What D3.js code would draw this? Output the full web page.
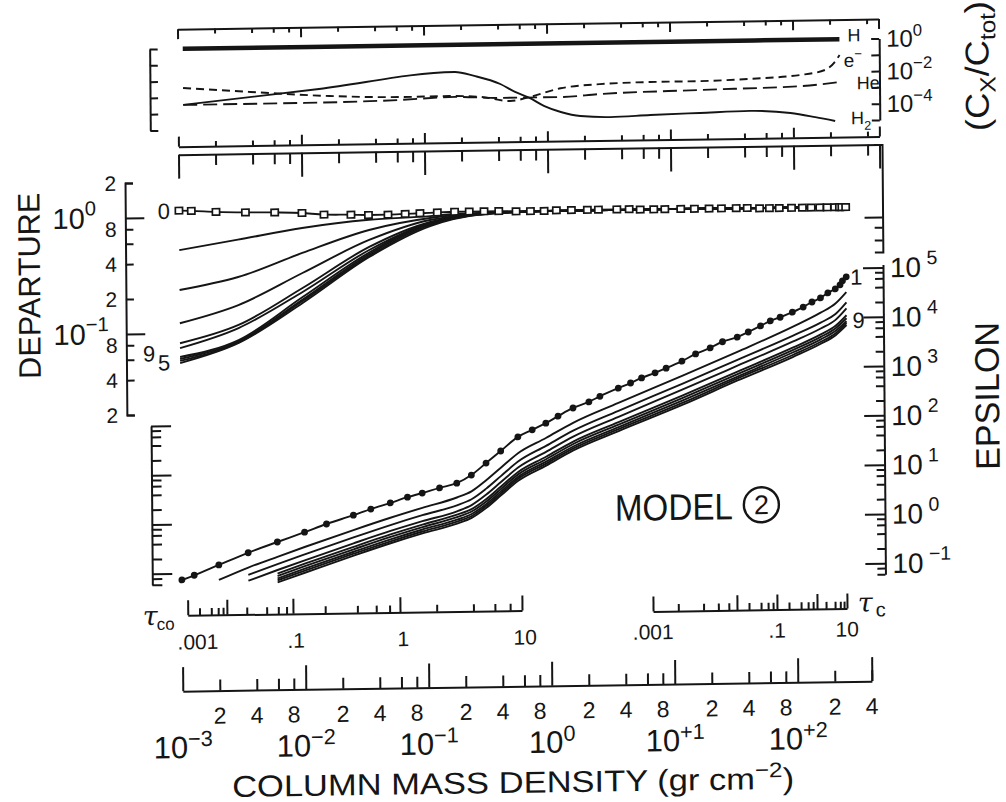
<!DOCTYPE html>
<html>
<head>
<meta charset="utf-8">
<script src="https://cdn.jsdelivr.net/npm/d3@7"></script>
<style>
  html, body { margin: 0; background: #fff; }
  #chart { width: 1006px; height: 802px; }
  text { font-family: "Liberation Sans", Arial, sans-serif; fill: #151515; }
</style>
</head>
<body>
<div id="chart"></div>
<script>
// ---------- data ----------
// depth points of the model, column mass (gr cm^-2)
const massGrid = [1.0e-3, 1.26e-3, 2.0e-3, 3.47e-3, 6.0e-3, 1.0e-2, 1.51e-2, 2.5e-2, 3.47e-2, 5.0e-2,
  6.9e-2, 9.1e-2, 0.126, 0.174, 0.229, 0.302, 0.398, 0.55, 0.72, 0.93,
  1.17, 1.55, 2.09, 2.57, 3.63, 4.57, 5.62, 7.24, 8.91, 12.0,
  15.5, 20.4, 25.7, 33.9, 41.7, 52.5, 63.1, 75.9, 95.5, 117,
  138, 162, 186, 214, 234, 245, 263];
// departure coefficient of level 0 (open squares)
const depLevel0 = [1.14, 1.13, 1.10, 1.08, 1.07, 1.05, 1.01, 1.00, 0.99, 0.99,
  1.00, 1.01, 1.02, 1.03, 1.03, 1.03, 1.03, 1.02, 1.02, 1.02,
  1.03, 1.03, 1.03, 1.03, 1.03, 1.03, 1.02, 1.02, 1.02, 1.02,
  1.02, 1.02, 1.02, 1.02, 1.02, 1.01, 1.01, 1.01, 1.01, 1.01,
  1.01, 1.01, 1.01, 1.01, 1.01, 1.01, 1.01];
// epsilon of level 1 (filled dots)
const epsLevel1 = [0.074, 0.091, 0.145, 0.251, 0.407, 0.631, 0.912, 1.35, 1.78, 2.34,
  3.02, 3.63, 4.57, 5.62, 8.13, 14.1, 24.5, 46.8, 64.6, 87.1,
  120, 174, 229, 295, 427, 537, 676, 851, 1047, 1445,
  1995, 2630, 3467, 4266, 5370, 7079, 8913, 10470, 13180, 16600,
  20890, 25120, 31620, 38020, 45710, 54950, 66070];

// departure coefficients of levels 1..9
const depMass = [1.0e-3, 3.0e-3, 1.0e-2, 3.5e-2, 0.11, 0.17, 0.32, 1.0, 10, 263];
const dep1 = [0.52, 0.63, 0.78, 0.90, 0.95, 0.985, 1.0, 1.02, 1.02, 1.01];
const dep2 = [0.236, 0.30, 0.475, 0.735, 0.916, 0.96, 1.0, 1.02, 1.02, 1.01];
const dep3 = [0.122, 0.172, 0.319, 0.603, 0.881, 0.94, 0.995, 1.02, 1.02, 1.01];
const dep4 = [0.082, 0.116, 0.237, 0.525, 0.847, 0.93, 0.99, 1.015, 1.02, 1.01];
const dep5 = [0.0745, 0.109, 0.219, 0.494, 0.830, 0.92, 0.99, 1.015, 1.02, 1.01];
const dep6 = [0.0624, 0.0859, 0.198, 0.47, 0.83, 0.91, 0.985, 1.015, 1.02, 1.01];
const dep7 = [0.060, 0.0838, 0.188, 0.455, 0.815, 0.905, 0.985, 1.015, 1.02, 1.01];
const dep8 = [0.0577, 0.082, 0.183, 0.44, 0.80, 0.90, 0.98, 1.015, 1.02, 1.01];
const dep9 = [0.0553, 0.0811, 0.176, 0.43, 0.78, 0.89, 0.98, 1.015, 1.02, 1.01];

// epsilon of levels 2..9 (null = curve not drawn there)
const epsMass = [2.0e-3, 3.47e-3, 6.0e-3, 1.0e-2, 2.5e-2, 5.0e-2, 9.1e-2, 0.174, 0.229, 0.302, 0.398,
  0.55, 0.93, 1.55, 3.63, 12.0, 33.9, 95.5, 162, 214, 263];
const eps2 = [0.072, 0.126, 0.204, 0.316, 0.676, 1.17, 1.82, 2.88, 3.80, 6.31, 11.2, 21.9, 43.7, 87, 214, 724, 2140, 6610, 12600, 19100, 32400];
const eps3 = [null, 0.089, 0.145, 0.224, 0.479, 0.832, 1.29, 2.00, 2.63, 4.27, 7.59, 14.8, 30.2, 60.3, 148, 501, 1480, 4370, 7940, 11700, 20000];
const eps4 = [null, 0.068, 0.110, 0.170, 0.363, 0.631, 0.977, 1.51, 2.00, 3.24, 5.75, 11.2, 22.9, 45.7, 112, 380, 1120, 3310, 6030, 8910, 15100];
const eps5 = [null, null, 0.093, 0.145, 0.309, 0.537, 0.832, 1.29, 1.66, 2.63, 4.68, 9.12, 18.2, 36.3, 87.1, 288, 851, 2510, 4570, 6760, 11000];
const eps6 = [null, null, 0.083, 0.129, 0.275, 0.479, 0.741, 1.15, 1.48, 2.34, 4.17, 8.13, 16.2, 32.4, 77.6, 257, 759, 2240, 4070, 6030, 9550];
const eps7 = [null, null, 0.074, 0.115, 0.245, 0.427, 0.661, 1.02, 1.32, 2.09, 3.72, 7.24, 14.5, 28.8, 69.2, 229, 676, 2000, 3630, 5370, 8320];
const eps8 = [null, null, 0.068, 0.105, 0.224, 0.389, 0.603, 0.933, 1.20, 1.91, 3.39, 6.61, 13.2, 26.3, 63.1, 204, 617, 1780, 3240, 4790, 7590];
const eps9 = [null, null, 0.062, 0.095, 0.204, 0.355, 0.550, 0.851, 1.10, 1.74, 3.09, 6.03, 12.0, 24.0, 57.5, 186, 562, 1620, 2950, 4370, 6920];

// top panel: fractional concentrations C_x / C_tot
const hMass = [1.1e-3, 0.1, 10, 240];
const hConc = [0.97, 0.975, 0.975, 0.98];
const h2Mass = [1.1e-3, 1.4e-2, 0.178, 0.257, 0.417, 0.55, 0.72, 0.95, 1.29, 1.86, 3.24, 6.9, 17.4, 44.7, 95, 151, 219];
const h2Conc = [3.5e-4, 2.5e-3, 2.1e-2, 1.15e-2, 3.5e-3, 1.1e-3, 4.6e-4, 1.4e-4, 5.9e-5, 3.2e-5, 2.6e-5, 3.2e-5, 3.9e-5, 4.7e-5, 3.2e-5, 1.7e-5, 9.5e-6];
const heMass = [1.1e-3, 9.8e-3, 6.3e-2, 0.178, 0.417, 1.29, 2.69, 17.4, 115, 240];
const heConc = [3.5e-4, 3.6e-4, 4.5e-4, 6.2e-4, 4.9e-4, 4.9e-4, 6.9e-4, 1.0e-3, 1.4e-3, 2.3e-3];
const elMass = [1.1e-3, 3.9e-3, 1.7e-2, 6.3e-2, 0.162, 0.288, 0.50, 0.72, 1.29, 2.69, 6.9, 17.4, 44.7, 115, 182, 219, 240];
const elConc = [3.8e-3, 1.9e-3, 9.1e-4, 6.8e-4, 7.1e-4, 5.9e-4, 3.1e-4, 5.2e-4, 1.7e-3, 2.8e-3, 3.4e-3, 3.5e-3, 4.3e-3, 6.8e-3, 1.3e-2, 3.9e-2, 0.105];

// optical depth scales: column mass where tau reaches each decade
const tauDecades = [0.001, 0.01, 0.1, 1, 10];
const tauCoMass = [1.11e-3, 2.31e-3, 7.96e-3, 5.90e-2, 0.579];
const tauCMass = [6.73, 32.4, 68.5, 145, 254];
const tauCoLabels = [".001", ".1", "1", "10"];
const tauCLabels = [".001", ".1", "10"];

// tick labels
const massExponents = ["\u22123", "\u22122", "\u22121", "0", "+1", "+2"];
const massMinorLabels = [2, 4, 8];
const depMinorLabels = ["2", "8", "4", "2", "8", "4", "2"];
const epsExponents = ["5", "4", "3", "2", "1", "0", "\u22121"];
const concExponents = ["0", "\u22122", "\u22124"];

// ---------- drawing ----------
const W = 1006, H = 802, INK = "#151515";
const svg = d3.select("#chart").append("svg").attr("width", W).attr("height", H);
svg.append("rect").attr("width", W).attr("height", H).attr("fill", "#fff");
// the scanned page sits slightly askew
const plot = svg.append("g")
  .attr("transform", "translate(500,400) matrix(1,-0.0145,0.008,1,0,0) translate(-500,-400)");

const x = d3.scaleLog().domain([1e-3, 1e2]).range([180.5, 795.5]);
const yConc = d3.scaleLog().domain([1, 1e-5]).range([44, 125.5]);
const yDep = d3.scaleLog().domain([1, 0.1]).range([212.6, 328.6]);
const yEps = d3.scaleLog().domain([1e5, 1e-1]).range([273, 568.8]);

const decades = (lo, hi) => d3.range(lo, hi + 1).map(e => Math.pow(10, e));
const minors = (lo, hi, mults, min, max) =>
  d3.range(lo, hi + 1).flatMap(e => mults.map(m => m * Math.pow(10, e)))
    .filter(v => v >= min * 0.999 && v <= max * 1.001);

function ticks(axisFn, scale, values, size, at, keepDomain, outer) {
  const a = axisFn(scale).tickValues(values).tickSize(size)
    .tickSizeOuter(outer || 0).tickFormat("");
  const horiz = axisFn === d3.axisTop || axisFn === d3.axisBottom;
  const gg = plot.append("g")
    .attr("transform", horiz ? `translate(0,${at})` : `translate(${at},0)`)
    .call(a);
  if (!keepDomain) gg.select(".domain").remove();
  gg.selectAll("line, path").attr("stroke", INK).attr("stroke-width", 2).attr("fill", "none");
  return gg;
}

function rich(parent, px, py, parts, size, anchor, lift) {
  const t = parent.append("text").attr("x", px).attr("y", py)
    .attr("font-size", size).attr("text-anchor", anchor || "start");
  let shift = 0;
  parts.forEach(([s, k]) => {
    const want = k === "sup" ? -(lift || 0.45) * size : k === "sub" ? 0.32 * size : 0;
    t.append("tspan").attr("dy", want - shift)
      .attr("font-size", k ? size * 0.7 : size).text(s);
    shift = want;
  });
  return t;
}

// ---- top panel ----
const xTop = d3.scaleLog().domain([1e-3, 500]).range([x(1e-3), x(500)]);
const topMinor = minors(-3, 2, [2, 4, 6, 8], 1e-3, 500);
const topMajor = decades(-3, 2).concat([500]);
ticks(d3.axisBottom, xTop, topMinor, 5, 24.5, true);
ticks(d3.axisBottom, xTop, topMajor, 10, 24.5, false);
ticks(d3.axisTop, xTop, topMinor, 5, 142, true);
ticks(d3.axisTop, xTop, topMajor, 10, 142, false);

ticks(d3.axisRight, yConc, decades(-5, 0), 8, 152.5, true);
ticks(d3.axisLeft, yConc, decades(-5, 0), 8, 882, true);
[1, 1e-2, 1e-4].forEach((v, i) =>
  rich(plot, 889, yConc(v) + 8.5, [["10"], [concExponents[i], "sup"]], 24));

const concLine = d3.line().x(d => x(d[0])).y(d => yConc(d[1])).curve(d3.curveMonotoneX);
plot.append("path").attr("d", concLine(d3.zip(hMass, hConc)))
  .attr("fill", "none").attr("stroke", INK).attr("stroke-width", 4.5);
plot.append("path").attr("d", concLine(d3.zip(h2Mass, h2Conc)))
  .attr("fill", "none").attr("stroke", INK).attr("stroke-width", 1.9);
plot.append("path").attr("d", concLine(d3.zip(heMass, heConc)))
  .attr("fill", "none").attr("stroke", INK).attr("stroke-width", 1.9).attr("stroke-dasharray", "14,6");
plot.append("path").attr("d", concLine(d3.zip(elMass, elConc)))
  .attr("fill", "none").attr("stroke", INK).attr("stroke-width", 1.9).attr("stroke-dasharray", "8,5");

rich(plot, x(240) + 8, yConc(0.98) + 2.5, [["H"]], 18);
rich(plot, x(240) + 4, yConc(0.105) + 12, [["e"], ["\u2212", "sup"]], 19);
rich(plot, x(240) + 17, yConc(2.3e-3) + 7.5, [["He"]], 18);
rich(plot, x(240) + 11, yConc(9.5e-6) + 3.5, [["H"], ["2", "sub"]], 18);

plot.append("text").attr("font-size", 33)
  .attr("transform", "translate(982,73) rotate(-90)").attr("text-anchor", "middle")
  .attr("y", 9).call(t => {
    [["(C", 0], ["X", 1], ["/C", 0], ["tot", 1], [")", 0]].forEach(([s, sub], i, arr) => {
      const prev = i ? arr[i - 1][1] : 0;
      t.append("tspan").attr("dy", (sub - prev) * 7).attr("font-size", sub ? 22 : 33).text(s);
    });
  })
  .attr("textLength", 130).attr("lengthAdjust", "spacingAndGlyphs");

// ---- main panel frame ----
const mainTopY = 150;
ticks(d3.axisBottom, xTop, topMinor, 11, mainTopY, true);
ticks(d3.axisBottom, xTop, topMajor, 24, mainTopY, false);

// left departure axis
const yDepAxis = yDep.copy().domain([2, 0.02]).range([yDep(2), yDep(0.02)]);
const depMinor = [2, 0.8, 0.6, 0.4, 0.2, 0.08, 0.06, 0.04, 0.02];
ticks(d3.axisRight, yDepAxis, depMinor, 8, 126.8, true, 8);
ticks(d3.axisRight, yDepAxis, [1, 0.1], 19, 126.8, false);
[2, 0.8, 0.4, 0.2, 0.08, 0.04, 0.02].forEach((v, i) =>
  rich(plot, 118, yDep(v) + 7.5, [[depMinorLabels[i]]], 21, "end"));
rich(plot, 54, yDep(1) + 10, [["10"], ["0", "sup"]], 29);
rich(plot, 54, yDep(0.1) + 10, [["10"], ["\u22121", "sup"]], 29);

plot.append("text").attr("font-size", 31).attr("text-anchor", "middle")
  .attr("transform", "translate(30,279) rotate(-90)").attr("y", 11)
  .attr("textLength", 186).attr("lengthAdjust", "spacingAndGlyphs").text("DEPARTURE");

// right departure axis
const depRight = d3.scaleLog().domain([yDep.invert(mainTopY), 0.41]).range([mainTopY, yDep(0.41)]);
ticks(d3.axisLeft, depRight, [0.67, 0.52], 8, 884, true, 8);
ticks(d3.axisLeft, depRight, [0.82], 18, 884, false);

// epsilon axes
const epsLeft = yEps.copy().domain([100, 0.06]).range([yEps(100), yEps(0.06)]);
ticks(d3.axisRight, epsLeft, minors(-2, 1, [2, 4, 6, 8], 0.06, 100), 10, 150.9, true);
ticks(d3.axisRight, epsLeft, decades(-1, 2), 20, 150.9, false);
const epsRight = yEps.copy().domain([1.15e5, 0.06]).range([yEps(1.15e5), yEps(0.06)]);
ticks(d3.axisLeft, epsRight, minors(-2, 4, [2, 4, 6, 8], 0.06, 1e5), 8, 884, true);
ticks(d3.axisLeft, epsRight, decades(-1, 5), 20, 884, false);
decades(-1, 5).reverse().forEach((v, i) =>
  rich(plot, 891, yEps(v) + 10, [["10"], [" " + epsExponents[i], "sup"]], 28));

plot.append("text").attr("font-size", 34).attr("text-anchor", "middle")
  .attr("transform", "translate(987,403) rotate(-90)").attr("y", 12)
  .attr("textLength", 148).attr("lengthAdjust", "spacingAndGlyphs").text("EPSILON");

// ---- departure curves ----
const depLine = d3.line().x(d => x(d[0])).y(d => yDep(d[1])).curve(d3.curveMonotoneX);
[dep1, dep2, dep3, dep4, dep5, dep6, dep7, dep8, dep9].forEach(vals =>
  plot.append("path").attr("d", depLine(d3.zip(depMass, vals)))
    .attr("fill", "none").attr("stroke", INK).attr("stroke-width", 1.9));
plot.append("path").attr("d", depLine(d3.zip(massGrid, depLevel0)))
  .attr("fill", "none").attr("stroke", INK).attr("stroke-width", 1.8);
plot.append("g").selectAll("rect").data(d3.zip(massGrid, depLevel0)).join("rect")
  .attr("x", d => x(d[0]) - 3.6).attr("y", d => yDep(d[1]) - 3.2)
  .attr("width", 7.2).attr("height", 6.4)
  .attr("fill", "#fff").attr("stroke", INK).attr("stroke-width", 1.7);

rich(plot, x(1e-3) - 9, yDep(depLevel0[0]) + 8, [["0"]], 22, "end");
rich(plot, x(1e-3) - 25, yDep(dep9[0]) - 2, [["9"]], 22, "end");
rich(plot, x(1e-3) - 10, yDep(dep9[0]) + 7, [["5"]], 22, "end");

// ---- epsilon curves ----
const epsLine = d3.line().defined(d => d[1] != null)
  .x(d => x(d[0])).y(d => yEps(d[1])).curve(d3.curveMonotoneX);
[eps2, eps3, eps4, eps5, eps6, eps7, eps8, eps9].forEach(vals =>
  plot.append("path").attr("d", epsLine(d3.zip(epsMass, vals)))
    .attr("fill", "none").attr("stroke", INK).attr("stroke-width", 1.9));
plot.append("path").attr("d", epsLine(d3.zip(massGrid, epsLevel1)))
  .attr("fill", "none").attr("stroke", INK).attr("stroke-width", 1.9);
plot.append("g").selectAll("circle").data(d3.zip(massGrid, epsLevel1)).join("circle")
  .attr("cx", d => x(d[0])).attr("cy", d => yEps(d[1])).attr("r", 3.4).attr("fill", INK);

rich(plot, x(263) + 4, yEps(epsLevel1[46]) + 8, [["1"]], 22);
rich(plot, x(263) + 6, yEps(eps9[20]) + 3, [["9"]], 22);

// MODEL (2)
plot.append("text").attr("x", 614).attr("y", 522.5).attr("font-size", 37)
  .attr("textLength", 118).attr("lengthAdjust", "spacingAndGlyphs").text("MODEL");
plot.append("circle").attr("cx", 760.5).attr("cy", 508.5).attr("r", 17.5)
  .attr("fill", "none").attr("stroke", INK).attr("stroke-width", 2.4);
plot.append("text").attr("x", 760.5).attr("y", 518).attr("font-size", 27)
  .attr("text-anchor", "middle").text("2");

// ---- optical depth axes ----
const tauCoX = d3.scaleLog().domain(tauDecades).range(tauCoMass.map(m => x(m)));
const tauCX = d3.scaleLog().domain(tauDecades).range(tauCMass.map(m => x(m)));
const tauMinor = minors(-3, 0, [2, 4, 6, 8], 1e-3, 10);
const tauCoY = 610.8, tauCY = 613.6;
ticks(d3.axisTop, tauCoX, tauMinor, 7, tauCoY, true);
ticks(d3.axisTop, tauCoX, tauDecades, 15, tauCoY, false);
ticks(d3.axisTop, tauCX, tauMinor, 7, tauCY, true);
ticks(d3.axisTop, tauCX, tauDecades, 15, tauCY, false);
[0.001, 0.1, 1, 10].forEach((v, i) =>
  rich(plot, tauCoX(v) + (i ? 3 : 10), tauCoY + 34, [[tauCoLabels[i]]], 21, "middle"));
[0.001, 0.1, 10].forEach((v, i) =>
  rich(plot, tauCX(v), tauCY + 28, [[tauCLabels[i]]], 21, "middle"));
plot.append("text").attr("x", 141).attr("y", 620).attr("font-size", 27)
  .attr("font-style", "italic").style("font-family", '"DejaVu Serif", serif').text("\u03c4");
plot.append("text").attr("x", 155).attr("y", 625).attr("font-size", 17).text("co");
plot.append("text").attr("x", 856).attr("y", 617).attr("font-size", 27)
  .attr("font-style", "italic").style("font-family", '"DejaVu Serif", serif').text("\u03c4");
plot.append("text").attr("x", 874).attr("y", 622).attr("font-size", 20).text("c");

// ---- column mass axis ----
const xBot = d3.scaleLog().domain([1e-3, 400]).range([x(1e-3), x(400)]);
const botY = 686.5;
ticks(d3.axisTop, xBot, minors(-3, 2, [2, 4, 6, 8], 1e-3, 400), 11, botY, true);
ticks(d3.axisTop, xBot, decades(-3, 2).concat([400]), 24, botY, false);
minors(-3, 2, massMinorLabels, 1e-3, 400).forEach(v =>
  rich(plot, xBot(v), botY + 33, [[String(Math.round(v / Math.pow(10, Math.floor(Math.log10(v) + 1e-9))))]], 23, "middle"));
decades(-3, 2).forEach((v, i) =>
  rich(plot, xBot(v), botY + 67, [["10"], [massExponents[i], "sup"]], 31, "middle", 0.38));

rich(plot, 229, 793, [["COLUMN MASS DENSITY (gr cm"], ["\u22122", "sup"], [")"]], 30, "start", 0.4)
  .attr("textLength", 562).attr("lengthAdjust", "spacingAndGlyphs");
</script>
</body>
</html>
